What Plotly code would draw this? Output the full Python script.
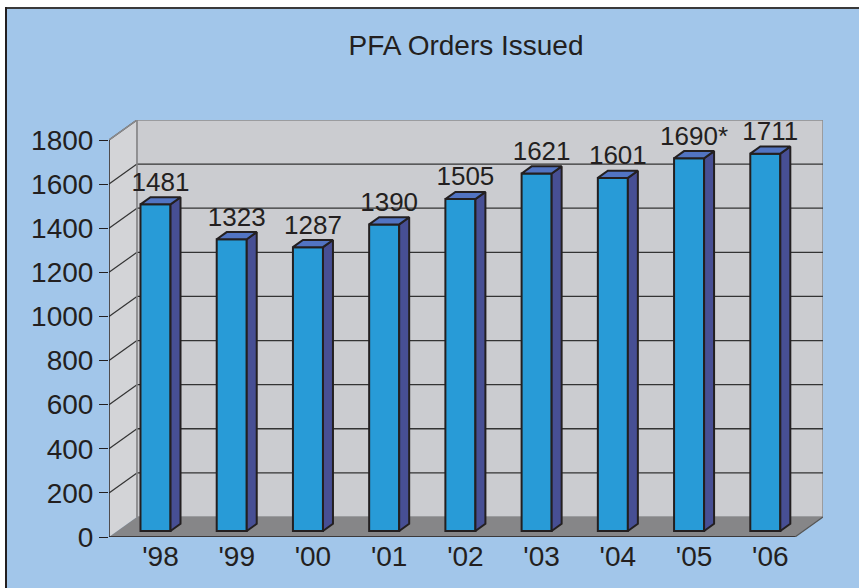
import plotly.graph_objects as go

# ---------------- data ----------------
years = ["'98", "'99", "'00", "'01", "'02", "'03", "'04", "'05", "'06"]
orders = [1481, 1323, 1287, 1390, 1505, 1621, 1601, 1690, 1711]
value_labels = ["1481", "1323", "1287", "1390", "1505", "1621", "1601", "1690*", "1711"]
y_ticks = [0, 200, 400, 600, 800, 1000, 1200, 1400, 1600, 1800]

# ---------------- geometry / style ----------------
W, H = 859, 588
ML, MR, MT, MB = 109, 36, 120, 51
YMAX_TICK = 1800
WALL_DX = 0.367      # depth offset of back wall, x-units (~28px)
WALL_DY = 90.7       # depth offset of back wall, y-units (~20px)
T0, T1 = 0.30, 0.657  # bar front / back depth fraction
BAR_W = 0.394
N = len(years)

BG = "#a2c6ea"
WALL = "#cbccd0"
SIDEWALL = "#d3d4d7"
FLOOR = "#868688"
FRONT = "#289bd7"
SIDE = "#474f94"
TOP = "#5274c2"
EDGE = "#231f20"
TXT = "#231f20"
FONT = "Liberation Sans, Arial, sans-serif"

pw = W - ML - MR
ph = H - MT - MB


def px_x(p):
    return (p - ML) / pw


def px_y(p):
    return (H - MB - p) / ph


base = T0 * WALL_DY
dd_x = (T1 - T0) * WALL_DX
dd_y = (T1 - T0) * WALL_DY
cx = [i + 0.5 + T0 * WALL_DX for i in range(N)]

fig = go.Figure()

# front faces
fig.add_trace(go.Bar(
    x=cx, y=orders, base=base, width=BAR_W,
    marker=dict(color=FRONT, line=dict(color=EDGE, width=2)),
    hoverinfo="skip", showlegend=False,
))

# side faces
sx, sy = [], []
for c, v in zip(cx, orders):
    r = c + BAR_W / 2
    sx += [r, r + dd_x, r + dd_x, r, r, None]
    sy += [base, base + dd_y, base + v + dd_y, base + v, base, None]
fig.add_trace(go.Scatter(
    x=sx, y=sy, mode="lines", fill="toself", fillcolor=SIDE,
    line=dict(color=EDGE, width=2), hoverinfo="skip", showlegend=False,
))

# top faces
tx, ty = [], []
for c, v in zip(cx, orders):
    l, r = c - BAR_W / 2, c + BAR_W / 2
    top = base + v
    tx += [l, r, r + dd_x, l + dd_x, l, None]
    ty += [top, top, top + dd_y, top + dd_y, top, None]
fig.add_trace(go.Scatter(
    x=tx, y=ty, mode="lines", fill="toself", fillcolor=TOP,
    line=dict(color=EDGE, width=2), hoverinfo="skip", showlegend=False,
))

# value labels
fig.add_trace(go.Scatter(
    x=[c + dd_x / 2 for c in cx],
    y=[base + v + dd_y for v in orders],
    mode="text", text=value_labels, textposition="top center",
    textfont=dict(size=26, color=TXT, family=FONT),
    cliponaxis=False, hoverinfo="skip", showlegend=False,
))

shapes = []
# left wall
shapes.append(dict(type="path", xref="x", yref="y", layer="below",
                   path=f"M 0,0 L {WALL_DX},{WALL_DY} L {WALL_DX},{YMAX_TICK + WALL_DY} L 0,{YMAX_TICK} Z",
                   fillcolor=SIDEWALL, line=dict(width=0)))
# back wall
shapes.append(dict(type="rect", xref="x", yref="y", layer="below",
                   x0=WALL_DX, x1=N + WALL_DX, y0=WALL_DY, y1=YMAX_TICK + WALL_DY,
                   fillcolor=WALL, line=dict(color="#8c8c8e", width=1.5)))
# floor
shapes.append(dict(type="path", xref="x", yref="y", layer="below",
                   path=f"M 0,0 L {N},0 L {N + WALL_DX},{WALL_DY} L {WALL_DX},{WALL_DY} Z",
                   fillcolor=FLOOR, line=dict(width=0)))
# grid lines on back wall and left wall
for t in y_ticks[1:-1]:
    shapes.append(dict(type="line", xref="x", yref="y", layer="below",
                       x0=WALL_DX, x1=N + WALL_DX, y0=t + WALL_DY, y1=t + WALL_DY,
                       line=dict(color="#333333", width=1.3)))
for t in y_ticks[1:]:
    shapes.append(dict(type="line", xref="x", yref="y", layer="below",
                       x0=0, x1=WALL_DX, y0=t, y1=t + WALL_DY,
                       line=dict(color="#333333", width=1.2)))
# wall edges
shapes.append(dict(type="line", xref="x", yref="y", layer="below",
                   x0=WALL_DX, x1=WALL_DX, y0=WALL_DY, y1=YMAX_TICK + WALL_DY,
                   line=dict(color="#8c8c8e", width=1.5)))
shapes.append(dict(type="line", xref="x", yref="y", layer="below",
                   x0=0, x1=WALL_DX, y0=YMAX_TICK, y1=YMAX_TICK + WALL_DY,
                   line=dict(color="#8c8c8e", width=1.5)))
# axis line and floor front edge
shapes.append(dict(type="line", xref="x", yref="y", layer="below",
                   x0=0, x1=0, y0=0, y1=YMAX_TICK, line=dict(color=EDGE, width=1.5)))
shapes.append(dict(type="line", xref="x", yref="y", layer="below",
                   x0=0, x1=N, y0=0, y1=0, line=dict(color=EDGE, width=1.5)))
shapes.append(dict(type="line", xref="x", yref="y", layer="below",
                   x0=N, x1=N + WALL_DX, y0=0, y1=WALL_DY, line=dict(color="#555", width=1.2)))

# outer frame: white margin + dark border at top/left
shapes.append(dict(type="rect", xref="paper", yref="paper", layer="above",
                   x0=px_x(-50), x1=px_x(W + 50), y0=px_y(7), y1=px_y(-50),
                   fillcolor="white", line=dict(width=0)))
shapes.append(dict(type="rect", xref="paper", yref="paper", layer="above",
                   x0=px_x(-50), x1=px_x(5), y0=px_y(H + 50), y1=px_y(-50),
                   fillcolor="white", line=dict(width=0)))
shapes.append(dict(type="line", xref="paper", yref="paper", layer="above",
                   x0=px_x(5), x1=px_x(W + 10), y0=px_y(8), y1=px_y(8),
                   line=dict(color="#3a3a3a", width=2)))
shapes.append(dict(type="line", xref="paper", yref="paper", layer="above",
                   x0=px_x(6), x1=px_x(6), y0=px_y(7), y1=px_y(H + 10),
                   line=dict(color="#231f20", width=2)))

fig.update_layout(
    width=W, height=H,
    margin=dict(l=ML, r=MR, t=MT, b=MB),
    paper_bgcolor=BG, plot_bgcolor="rgba(0,0,0,0)",
    title=dict(text="PFA Orders Issued", x=0.5, xref="paper", y=1 - 45 / H,
               yanchor="middle", xanchor="center",
               font=dict(size=28, color=TXT, family=FONT)),
    font=dict(family=FONT, color=TXT),
    shapes=shapes,
    showlegend=False,
    xaxis=dict(range=[0, N + WALL_DX], showgrid=False, zeroline=False, showline=False,
               tickvals=[c + dd_x / 2 for c in cx], ticktext=years, ticks="",
               tickfont=dict(size=28, color=TXT, family=FONT), fixedrange=True),
    yaxis=dict(range=[0, YMAX_TICK + WALL_DY], showgrid=False, zeroline=False, showline=False,
               tickvals=y_ticks, ticks="outside", ticklen=9, tickwidth=1.2, tickcolor=EDGE,
               tickfont=dict(size=28, color=TXT, family=FONT), fixedrange=True),
)

fig.write_html(
    "out.html",
    config={"displayModeBar": False},
    post_script="document.body.style.margin='0';document.body.style.overflow='hidden';",
)
